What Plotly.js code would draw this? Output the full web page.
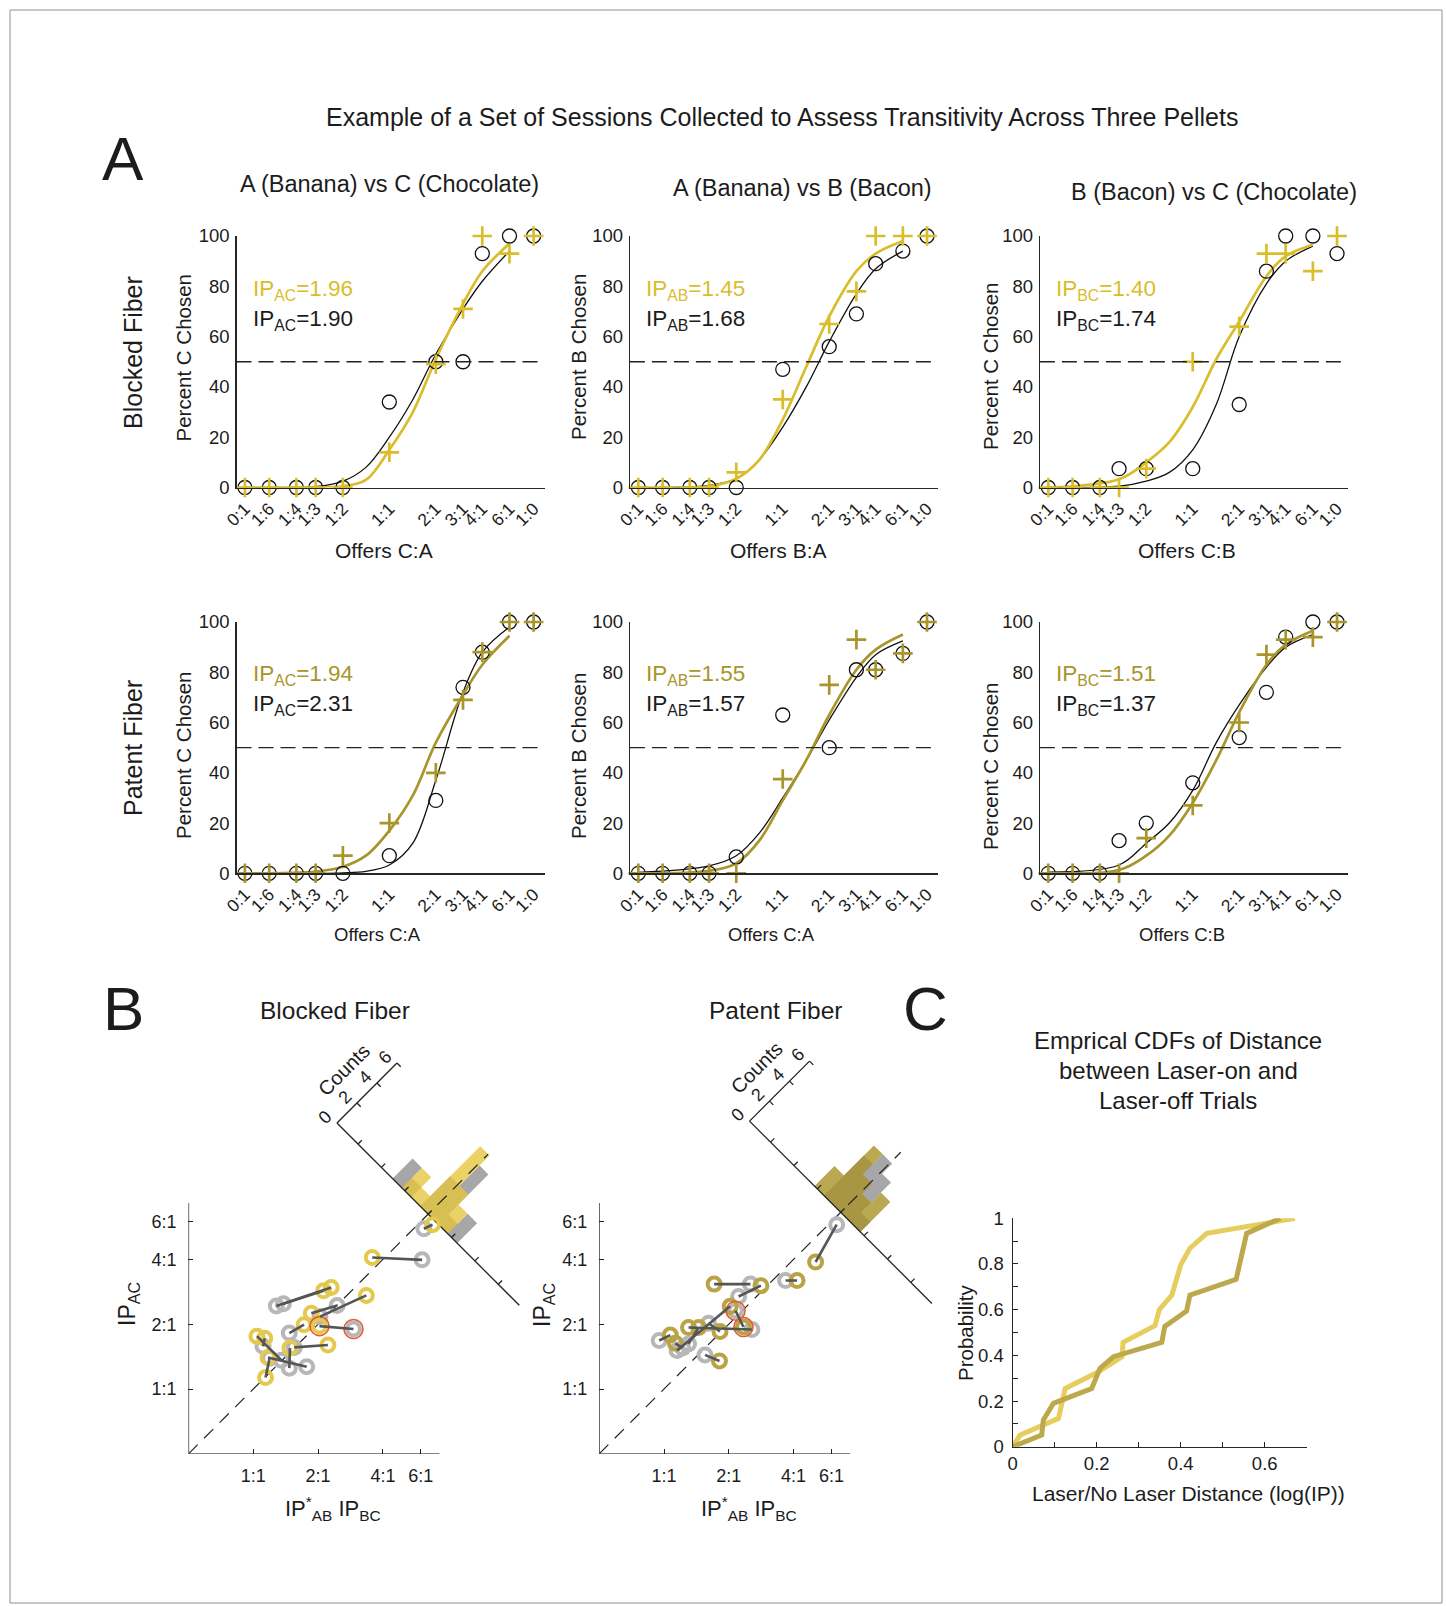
<!DOCTYPE html>
<html><head><meta charset="utf-8">
<script src="https://cdn.plot.ly/plotly-3.0.1.min.js"></script>
<style>html,body{margin:0;padding:0;background:#fff}#chart{width:1447px;height:1606px}</style>
</head><body><div id="chart"></div>
<script>
// ================= DATA =================
// Panel A: offers (tick labels) and offer ratios (0:1 and 1:0 sit at the axis ends)
const offerLabels = ['0:1','1:6','1:4','1:3','1:2','1:1','2:1','3:1','4:1','6:1','1:0'];
const offerRatios = [0.116, 1/6, 1/4, 1/3, 1/2, 1, 2, 3, 4, 6, 8.6];
const fitRatios   = [0.116, 1/3, 1/2, 0.705, 1, 1.42, 2, 3, 4, 6];

// percent chosen, laser off (black circles) / laser on (crosses)
const blockedAC_off = [0,0,0,0,0,34,50,50,93,100,100];
const blockedAC_on  = [0,0,0,0,0,14,49,71,100,93,100];
const blockedAB_off = [0,0,0,0,0,47,56,69,89,94,100];
const blockedAB_on  = [0,0,0,0,6,35,65,78,100,100,100];
const blockedBC_off = [0,0,0,7.5,7.5,7.5,33,86,100,100,93];
const blockedBC_on  = [0,0,0,0,7.5,50,64,93,93,86,100];
const patentAC_off  = [0,0,0,0,0,7,29,74,88,100,100];
const patentAC_on   = [0,0,0,0,7,20,40,69,88,100,100];
const patentAB_off  = [0,0,0,0,6.5,63,50,81,81,87.5,100];
const patentAB_on   = [0,0,0,0,0,37.5,75,93,81,87.5,100];
const patentBC_off  = [0,0,0,13,20,36,54,72,94,100,100];
const patentBC_on   = [0,0,0,0,14,27,60,87,93,94,100];

// fitted psychometric curves, read at fitRatios
const blockedAC_fitOff = [0,0.3,2.5,8,20,35,53,71,82,94];
const blockedAC_fitOn  = [0,0,0.5,3,15,30,51,73,86,97];
const blockedAB_fitOff = [0,0.8,3.5,11,24,40,58,77,87,94];
const blockedAB_fitOn  = [0,0.5,3.5,11,27,48,68,86,93,98];
const blockedBC_fitOff = [0,0.5,2.5,6,15,33,60,81,90,96];
const blockedBC_fitOn  = [0,3.3,10,18,32,51,66,84,92,96.5];
const patentAC_fitOff  = [0,0,0.2,0.8,3.3,12,37,72,88,98];
const patentAC_fitOn   = [0,0.7,2.6,7,17,31,52,71,83,94.5];
const patentAB_fitOff  = [0.4,3,7,16,30,45,61,78,87,92.5];
const patentAB_fitOn   = [0,1,4,13,29,45,63,81,89,95];
const patentBC_fitOff  = [0.5,3.3,12,20,33,52,67,82,90,95];
const patentBC_fitOn   = [0,1.3,7,15,28,45,64,83,91,96.5];

const ipSub        = ['AC','AB','BC'];
const ipBlockedOn  = ['1.96','1.45','1.40'];
const ipBlockedOff = ['1.90','1.68','1.74'];
const ipPatentOn   = ['1.94','1.55','1.51'];
const ipPatentOff  = ['2.31','1.57','1.37'];
const colTitles    = ['A (Banana) vs C (Chocolate)','A (Banana) vs B (Bacon)','B (Bacon) vs C (Chocolate)'];
const xTitlesTop   = ['Offers C:A','Offers B:A','Offers C:B'];
const xTitlesBot   = ['Offers C:A','Offers C:A','Offers C:B'];
const yTitles      = ['Percent C Chosen','Percent B Chosen','Percent C Chosen'];

// Panel B: IP_AB*IP_BC (x) vs IP_AC (y), laser on / laser off pairs
const bTickVals = [1,2,4,6];
const bTickText = ['1:1','2:1','4:1','6:1'];
const bAxisLimits = [0.5, 7.32];
const blockedOnX  = [3.57,6.8,2.30,2.12,3.35,1.86,2.03,2.22,1.04,1.14,1.48,1.72,1.13,1.17];
const blockedOnY  = [4.08,5.8,2.96,2.86,2.72,2.25,1.96,1.60,1.76,1.13,1.55,1.99,1.72,1.40];
const blockedOffX = [6.08,6.2,1.28,1.38,2.04,2.45,2.92,1.55,1.35,1.19,1.47,1.47,1.11,1.77];
const blockedOffY = [3.98,5.55,2.43,2.49,2.17,2.44,1.90,1.56,1.36,1.39,1.25,1.82,1.58,1.27];
const blockedExample = 6;
const patentOnX   = [5.06,4.15,1.71,2.82,2.34,1.30,1.81,1.07,2.03,1.82,1.45,1.13];
const patentOnY   = [3.89,3.19,3.07,3.02,1.94,1.93,1.35,1.78,2.42,1.85,1.93,1.63];
const patentOffX  = [6.34,3.67,2.52,2.22,2.15,2.56,1.55,0.95,1.15,1.61,1.30,1.22];
const patentOffY  = [5.80,3.19,3.07,2.69,2.31,1.89,1.44,1.68,1.51,2.02,1.62,1.55];
const patentExample = 4;

// rotated histograms of log(IP_AC) - log(IP_AB*IP_BC)
const histEdges      = [-0.62,-0.42,-0.22,-0.03,0.17,0.36,0.56,0.76];
const blockedHistOn  = [0,2,3,6,1,2,0];
const blockedHistOff = [2,1,5,3,0,1,2];
const patentHistOn   = [0,3,2,3,5,2,0];
const patentHistOff  = [0,1,4,5,4,0,0];
const histCountTicks = [0,2,4,6];
const histDiffTicks  = [-1.5,-1,-0.5,0,0.5,1,1.5];

// Panel C: empirical CDFs
const cdfBlockedX = [0,0.017,0.109,0.125,0.2,0.26,0.263,0.339,0.349,0.379,0.4,0.422,0.462,0.672];
const cdfBlockedY = [0,0.05,0.124,0.255,0.324,0.394,0.457,0.53,0.6,0.664,0.796,0.869,0.934,1.0];
const cdfPatentX  = [0,0.069,0.073,0.097,0.188,0.208,0.24,0.355,0.362,0.414,0.422,0.532,0.557,0.637];
const cdfPatentY  = [0,0.051,0.117,0.19,0.255,0.343,0.394,0.457,0.526,0.594,0.664,0.733,0.934,1.0];

// ================= STYLE / LAYOUT =================
const W = 1447, H = 1606;
const FONT = 'Liberation Sans, Arial, Helvetica, sans-serif';
const INK = '#1c1c1c';
const YEL_TOP = '#dabd2b';
const OLIVE_BOT = '#a8952b';
const RING_YEL = '#e3c94e';
const RING_OLV = '#b9a344';
const RING_GRY = '#b7b7ba';
const fx = x => x / W, fy = y => 1 - y / H;

const traces = [];
const layout = {
  width: W, height: H, margin: {l:0, r:0, t:0, b:0},
  paper_bgcolor: '#ffffff', plot_bgcolor: 'rgba(0,0,0,0)',
  showlegend: false, font: {family: FONT, color: INK},
  annotations: [], shapes: []
};
function ann(text, x, y, size, opt) {
  opt = opt || {};
  layout.annotations.push(Object.assign({
    text: text, x: fx(x), y: fy(y), xref: 'paper', yref: 'paper', showarrow: false,
    xanchor: 'center', yanchor: 'middle',
    font: {family: FONT, size: size, color: opt.color || INK}
  }, opt.extra || {}));
}

// outer frame
layout.shapes.push({type:'rect', xref:'paper', yref:'paper', x0:fx(10), x1:fx(1442), y0:fy(1603), y1:fy(10),
  line:{color:'#8f8f8f', width:1}});

// ---------- Panel A ----------
const panels = [
  {off:blockedAC_off, on:blockedAC_on, fOff:blockedAC_fitOff, fOn:blockedAC_fitOn, ipOn:ipBlockedOn[0], ipOff:ipBlockedOff[0]},
  {off:blockedAB_off, on:blockedAB_on, fOff:blockedAB_fitOff, fOn:blockedAB_fitOn, ipOn:ipBlockedOn[1], ipOff:ipBlockedOff[1]},
  {off:blockedBC_off, on:blockedBC_on, fOff:blockedBC_fitOff, fOn:blockedBC_fitOn, ipOn:ipBlockedOn[2], ipOff:ipBlockedOff[2]},
  {off:patentAC_off, on:patentAC_on, fOff:patentAC_fitOff, fOn:patentAC_fitOn, ipOn:ipPatentOn[0], ipOff:ipPatentOff[0]},
  {off:patentAB_off, on:patentAB_on, fOff:patentAB_fitOff, fOn:patentAB_fitOn, ipOn:ipPatentOn[1], ipOff:ipPatentOff[1]},
  {off:patentBC_off, on:patentBC_on, fOff:patentBC_fitOff, fOn:patentBC_fitOn, ipOn:ipPatentOn[2], ipOff:ipPatentOff[2]}
];
const colLeft = [236.5, 629.9, 1039.9], colW = 308;
const rowTop = [236, 622], rowBot = [487.5, 873.3];
const ipX = [251, 644, 1054];
const ipYOn = [290, 675], ipYOff = [320, 705];

panels.forEach((p, i) => {
  const n = i + 1, r = Math.floor(i / 3), c = i % 3;
  const xa = n === 1 ? 'x' : 'x' + n, ya = n === 1 ? 'y' : 'y' + n;
  const col = r === 0 ? YEL_TOP : OLIVE_BOT;
  layout[n === 1 ? 'xaxis' : 'xaxis' + n] = {
    type: 'log', domain: [fx(colLeft[c]), fx(colLeft[c] + colW)], range: [-0.99, 1.005], anchor: ya,
    tickmode: 'array', tickvals: offerRatios, ticktext: offerLabels, tickangle: -45,
    tickfont: {size: 17.5, color: INK, family: FONT}, ticks: '', ticklabelstandoff: 3,
    showline: true, linecolor: '#262626', linewidth: 1.2, showgrid: false, zeroline: false, fixedrange: true
  };
  layout[n === 1 ? 'yaxis' : 'yaxis' + n] = {
    domain: [fy(rowBot[r]), fy(rowTop[r])], range: [0, 100], anchor: xa,
    tickmode: 'array', tickvals: [0,20,40,60,80,100], tickfont: {size: 18.5, color: INK, family: FONT},
    ticks: '', ticklabelstandoff: 2,
    showline: true, linecolor: '#262626', linewidth: 1.2, showgrid: false, zeroline: false, fixedrange: true
  };
  layout.shapes.push({type:'line', xref: xa + ' domain', yref: ya, x0: 0, x1: 1, y0: 50, y1: 50,
    line: {color: '#222', width: 1.3, dash: '15px,7px'}});
  traces.push({x: fitRatios, y: p.fOff, xaxis: xa, yaxis: ya, mode: 'lines', hoverinfo: 'skip',
    line: {color: '#111', width: 1.3, shape: 'spline', smoothing: 1}});
  traces.push({x: fitRatios, y: p.fOn, xaxis: xa, yaxis: ya, mode: 'lines', hoverinfo: 'skip',
    line: {color: col, width: 2.7, shape: 'spline', smoothing: 1}});
  traces.push({x: offerRatios, y: p.off, xaxis: xa, yaxis: ya, mode: 'markers', cliponaxis: false,
    marker: {symbol: 'circle-open', size: 14, color: '#111', line: {width: 1.3, color: '#111'}}});
  traces.push({x: offerRatios, y: p.on, xaxis: xa, yaxis: ya, mode: 'markers', cliponaxis: false,
    marker: {symbol: 'cross-thin', size: 14, color: col, line: {width: 2.7, color: col}}});
  ann('IP<sub>' + ipSub[c] + '</sub>=' + p.ipOn, ipX[c], ipYOn[r], 22.5, {color: col, extra: {xanchor: 'left'}});
  ann('IP<sub>' + ipSub[c] + '</sub>=' + p.ipOff, ipX[c], ipYOff[r], 22.5, {extra: {xanchor: 'left'}});
});

// Panel A text
ann('Example of a Set of Sessions Collected to Assess Transitivity Across Three Pellets', 782, 117, 25);
ann('A', 123, 159, 62);
ann('B', 123, 1009, 62);
ann('C', 925, 1009, 62);
ann('Blocked Fiber', 133, 353, 25, {extra: {textangle: -90}});
ann('Patent Fiber', 133, 748, 25, {extra: {textangle: -90}});
const colTitleXY = [[390,184],[802,188],[1214,191.5]];
colTitles.forEach((t, c) => ann(t, colTitleXY[c][0], colTitleXY[c][1], 23.5));
const xtTop = [[384,550],[778,550],[1187,550]], xtBot = [[377,934],[772,934],[1182,934]];
xTitlesTop.forEach((t, c) => ann(t, xtTop[c][0], xtTop[c][1], 21));
xTitlesBot.forEach((t, c) => ann(t, xtBot[c][0], xtBot[c][1], 18.5));
const ytTop = [[182.5,357],[578,357],[990,366]], ytBot = [[183,755],[578,756],[990,766]];
yTitles.forEach((t, c) => { ann(t, ytTop[c][0], ytTop[c][1], 20.5, {extra:{textangle:-90}});
                            ann(t, ytBot[c][0], ytBot[c][1], 20.5, {extra:{textangle:-90}}); });

// ---------- Panel B ----------
const K = 93.5;                    // px per natural-log unit on both B axes
const A_CNT = 10 / K;              // histogram count unit (per axis direction), log units
const DMAX = 1.95;                 // half length of rotated histogram base axis
const lnLo = Math.log(bAxisLimits[0]);
const bPanels = [
  {ox: 253.3, oy: 1389, hiX: 2.98, hiY: 3.58, C: 1.87, onX: blockedOnX, onY: blockedOnY, offX: blockedOffX, offY: blockedOffY,
   ex: blockedExample, hOn: blockedHistOn, hOff: blockedHistOff, ring: RING_YEL, fill: 'rgba(228,197,60,0.78)',
   title: 'Blocked Fiber', titleXY: [335,1010.5], yt: [128,1304], xt: [333,1508]},
  {ox: 664, oy: 1389, hiX: 2.98, hiY: 3.58, C: 1.89, onX: patentOnX, onY: patentOnY, offX: patentOffX, offY: patentOffY,
   ex: patentExample, hOn: patentHistOn, hOff: patentHistOff, ring: RING_OLV, fill: 'rgba(170,146,40,0.80)',
   title: 'Patent Fiber', titleXY: [775,1010.5], yt: [543,1305], xt: [749,1508]}
];
const L10 = v => Math.log10(v);

bPanels.forEach((b, j) => {
  const n = 7 + j, xa = 'x' + n, ya = 'y' + n;
  const axCommon = {type: 'log', tickmode: 'array', tickvals: bTickVals, ticktext: bTickText,
    ticks: 'inside', ticklen: 5, tickwidth: 1, tickcolor: '#222', tickfont: {size: 18, color: INK, family: FONT},
    showline: false, showgrid: false, zeroline: false, fixedrange: true};
  layout['xaxis' + n] = Object.assign({}, axCommon, {anchor: ya, ticklabelstandoff: 9,
    domain: [fx(b.ox + K * lnLo), fx(b.ox + K * b.hiX)], range: [L10(bAxisLimits[0]), b.hiX / Math.LN10]});
  layout['yaxis' + n] = Object.assign({}, axCommon, {anchor: xa, ticklabelstandoff: 11,
    domain: [fy(b.oy - K * lnLo), fy(b.oy - K * b.hiY)], range: [L10(bAxisLimits[0]), b.hiY / Math.LN10]});

  const frame = (d, c) => [Math.exp(b.C - d / 2 + A_CNT * c), Math.exp(b.C + d / 2 + A_CNT * c)];
  const outline = counts => {
    const pts = [frame(histEdges[0], 0)];
    counts.forEach((c, i) => { pts.push(frame(histEdges[i], c)); pts.push(frame(histEdges[i + 1], c)); });
    pts.push(frame(histEdges[histEdges.length - 1], 0));
    pts.push(pts[0]);
    return {x: pts.map(p => p[0]), y: pts.map(p => p[1])};
  };
  const go = outline(b.hOff), gy = outline(b.hOn);
  traces.push({x: go.x, y: go.y, xaxis: xa, yaxis: ya, mode: 'lines', fill: 'toself', fillcolor: '#a7a7a9',
    line: {width: 0, color: 'rgba(0,0,0,0)'}, hoverinfo: 'skip'});
  traces.push({x: gy.x, y: gy.y, xaxis: xa, yaxis: ya, mode: 'lines', fill: 'toself', fillcolor: b.fill,
    line: {width: 0, color: 'rgba(0,0,0,0)'}, hoverinfo: 'skip'});

  // scatter axis lines + histogram axes and ticks
  const fxs = [], fys = [];
  const seg = (p, q) => { fxs.push(p[0], q[0], null); fys.push(p[1], q[1], null); };
  seg([bAxisLimits[0], bAxisLimits[1]], [bAxisLimits[0], bAxisLimits[0]]);
  seg([bAxisLimits[0], bAxisLimits[0]], [bAxisLimits[1], bAxisLimits[0]]);
  seg(frame(-DMAX, 0), frame(DMAX, 0));
  seg(frame(DMAX, 0), frame(DMAX, histCountTicks[histCountTicks.length - 1]));
  histDiffTicks.forEach(d => seg(frame(d, 0), frame(d, 0.38)));
  histCountTicks.slice(1).forEach(c => seg(frame(DMAX, c), frame(DMAX - 0.08, c)));
  traces.push({x: fxs, y: fys, xaxis: xa, yaxis: ya, mode: 'lines', line: {color: '#222', width: 1.3},
    connectgaps: false, hoverinfo: 'skip'});

  // identity line (extends into the histogram)
  const top = frame(0, histCountTicks[histCountTicks.length - 1]);
  traces.push({x: [bAxisLimits[0], top[0]], y: [bAxisLimits[0], top[1]], xaxis: xa, yaxis: ya, mode: 'lines',
    line: {color: '#222', width: 1.2, dash: '13px,9px'}, hoverinfo: 'skip'});

  // count labels
  histCountTicks.forEach(c => {
    const q = frame(DMAX + 0.19, c - 0.3);
    layout.annotations.push({text: String(c), x: L10(q[0]), y: L10(q[1]), xref: xa, yref: ya, showarrow: false,
      textangle: -45, font: {family: FONT, size: 18, color: INK}});
  });
  const qc = frame(DMAX + 0.5, 3.0);
  layout.annotations.push({text: 'Counts', x: L10(qc[0]), y: L10(qc[1]), xref: xa, yref: ya, showarrow: false,
    textangle: -45, font: {family: FONT, size: 20, color: INK}});

  // markers
  traces.push({x: b.offX, y: b.offY, xaxis: xa, yaxis: ya, mode: 'markers', cliponaxis: false,
    marker: {symbol: 'circle-open', size: 13, color: RING_GRY, line: {width: 4, color: RING_GRY}}});
  traces.push({x: b.onX, y: b.onY, xaxis: xa, yaxis: ya, mode: 'markers', cliponaxis: false,
    marker: {symbol: 'circle-open', size: 13, color: b.ring, line: {width: 4, color: b.ring}}});
  traces.push({x: [b.onX[b.ex], b.offX[b.ex]], y: [b.onY[b.ex], b.offY[b.ex]], xaxis: xa, yaxis: ya,
    mode: 'markers', cliponaxis: false,
    marker: {symbol: 'circle-open', size: 19, color: '#e85a32', line: {width: 1.6, color: '#e85a32'}}});
  const lx = [], ly = [];
  b.onX.forEach((v, k) => { lx.push(v, b.offX[k], null); ly.push(b.onY[k], b.offY[k], null); });
  traces.push({x: lx, y: ly, xaxis: xa, yaxis: ya, mode: 'lines', connectgaps: false,
    line: {color: '#555', width: 2.6}, hoverinfo: 'skip'});

  ann(b.title, b.titleXY[0], b.titleXY[1], 24.5);
  ann('IP<sub>AC</sub>', b.yt[0], b.yt[1], 23, {extra: {textangle: -90}});
  ann('IP<sup>*</sup><sub>AB</sub> IP<sub>BC</sub>', b.xt[0], b.xt[1], 22);
});

// ---------- Panel C ----------
layout.xaxis9 = {domain: [fx(1012.7), fx(1306.7)], range: [0, 0.7], anchor: 'y9',
  tickmode: 'array', tickvals: [0, 0.2, 0.4, 0.6], ticks: 'inside', ticklen: 5, tickcolor: '#222',
  minor: {tickmode: 'linear', tick0: 0, dtick: 0.1, ticks: 'inside', ticklen: 5, tickcolor: '#222'},
  tickfont: {size: 18.5, color: INK, family: FONT}, showline: true, linecolor: '#262626', linewidth: 1.2,
  showgrid: false, zeroline: false, fixedrange: true};
layout.yaxis9 = {domain: [fy(1446.7), fy(1218.3)], range: [0, 1], anchor: 'x9',
  tickmode: 'array', tickvals: [0, 0.2, 0.4, 0.6, 0.8, 1], ticktext: ['0','0.2','0.4','0.6','0.8','1'],
  ticks: 'inside', ticklen: 5, tickcolor: '#222', ticklabelstandoff: 4,
  minor: {tickmode: 'linear', tick0: 0, dtick: 0.1, ticks: 'inside', ticklen: 5, tickcolor: '#222'},
  tickfont: {size: 18.5, color: INK, family: FONT}, showline: true, linecolor: '#262626', linewidth: 1.2,
  showgrid: false, zeroline: false, fixedrange: true};
traces.push({x: cdfBlockedX, y: cdfBlockedY, xaxis: 'x9', yaxis: 'y9', mode: 'lines',
  line: {color: '#e6cd5d', width: 5}});
traces.push({x: cdfPatentX, y: cdfPatentY, xaxis: 'x9', yaxis: 'y9', mode: 'lines',
  line: {color: '#bea84c', width: 5}});
ann('Emprical CDFs of Distance', 1178, 1040.5, 24);
ann('between Laser-on and', 1178, 1070, 24);
ann('Laser-off Trials', 1178, 1100, 24);
ann('Probability', 965, 1333, 20.5, {extra: {textangle: -90}});
ann('Laser/No Laser Distance (log(IP))', 1188, 1493, 21);

Plotly.newPlot('chart', traces, layout, {staticPlot: true, displayModeBar: false});
</script>
</body></html>
